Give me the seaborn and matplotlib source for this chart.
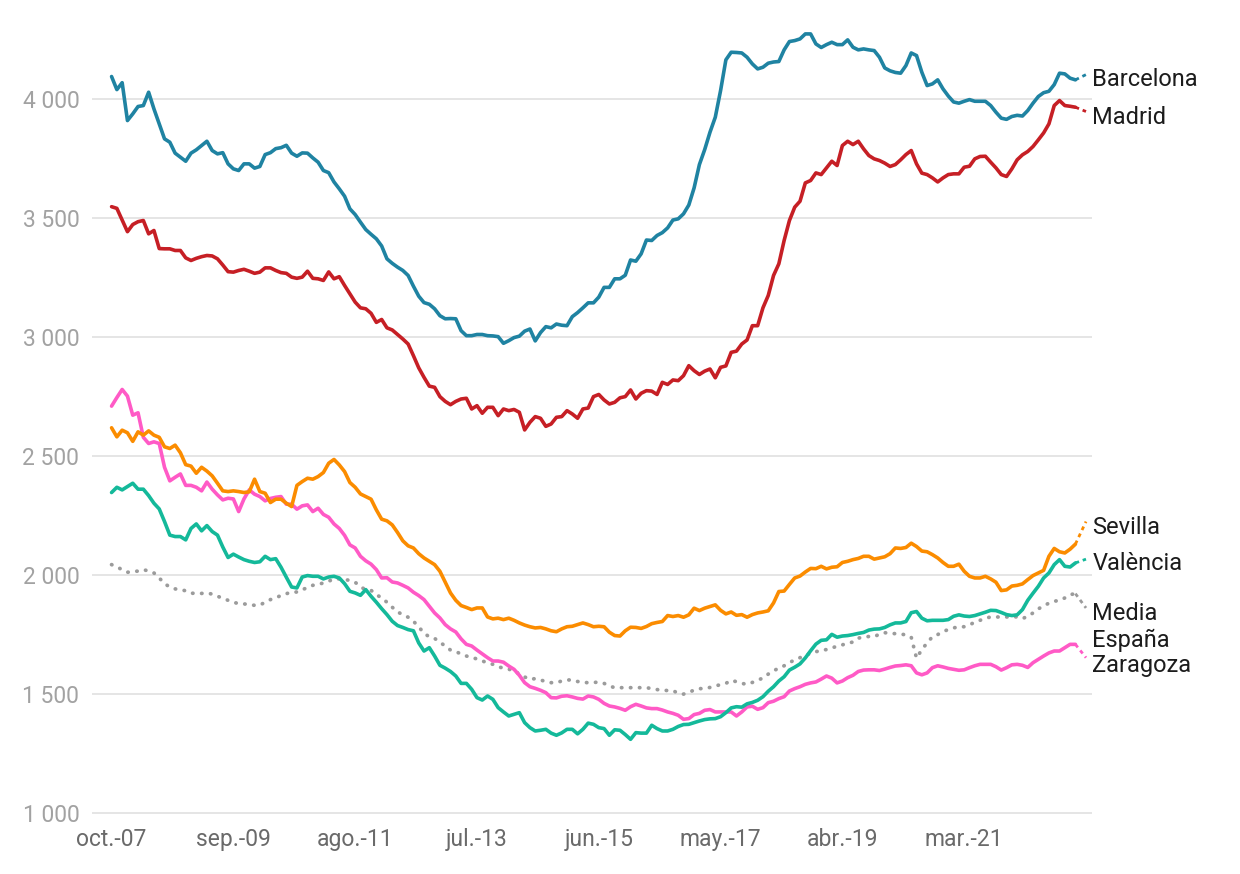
import numpy as np
import pandas as pd
import matplotlib
matplotlib.use('Agg')
from matplotlib import pyplot as plt
import seaborn as sns

# Meses con dato (oct-2007 a dic-2022) y ultimo dato provisional
meses = pd.period_range('2007-10', '2022-12', freq='M')
mes_final = pd.Period('2023-02', freq='M')

barcelona = [4096, 4041, 4070, 3911, 3939, 3970, 3974, 4030, 3960, 3897,
             3834, 3820, 3774, 3757, 3740, 3774, 3788, 3806, 3824, 3785,
             3771, 3776, 3729, 3708, 3701, 3729, 3729, 3711, 3718, 3768,
             3776, 3793, 3797, 3807, 3774, 3761, 3775, 3774, 3754, 3736,
             3701, 3692, 3653, 3624, 3593, 3540, 3516, 3484, 3453, 3433,
             3414, 3384, 3330, 3311, 3295, 3281, 3260, 3215, 3173, 3146,
             3139, 3120, 3091, 3078, 3079, 3078, 3028, 3007, 3007, 3012,
             3012, 3007, 3006, 3003, 2975, 2986, 2999, 3005, 3026, 3035,
             2985, 3020, 3045, 3040, 3056, 3051, 3049, 3087, 3104, 3124,
             3145, 3145, 3169, 3210, 3210, 3246, 3246, 3261, 3325, 3320,
             3351, 3409, 3407, 3428, 3440, 3460, 3493, 3498, 3519, 3556,
             3628, 3726, 3789, 3862, 3925, 4037, 4166, 4198, 4197, 4195,
             4177, 4149, 4128, 4135, 4152, 4157, 4159, 4208, 4243, 4247,
             4254, 4275, 4275, 4233, 4218, 4230, 4240, 4230, 4230, 4250,
             4219, 4208, 4212, 4208, 4205, 4177, 4132, 4120, 4113, 4110,
             4142, 4195, 4184, 4114, 4058, 4065, 4082, 4044, 4014, 3989,
             3984, 3992, 3999, 3992, 3992, 3992, 3974, 3946, 3921, 3916,
             3928, 3933, 3930, 3953, 3984, 4012, 4028, 4034, 4062, 4110,
             4107, 4089, 4082]

madrid = [3549, 3542, 3493, 3444, 3474, 3486, 3491, 3435, 3449, 3373,
          3372, 3372, 3365, 3365, 3334, 3323, 3332, 3339, 3344, 3342,
          3330, 3304, 3276, 3274, 3281, 3286, 3278, 3269, 3274, 3292,
          3292, 3281, 3272, 3269, 3253, 3248, 3253, 3278, 3248, 3246,
          3239, 3275, 3246, 3255, 3218, 3183, 3148, 3124, 3120, 3101,
          3063, 3075, 3040, 3031, 3012, 2993, 2972, 2923, 2872, 2832,
          2795, 2790, 2751, 2731, 2717, 2731, 2741, 2744, 2699, 2713,
          2681, 2706, 2706, 2671, 2699, 2692, 2697, 2685, 2611, 2643,
          2667, 2660, 2626, 2636, 2664, 2667, 2692, 2678, 2660, 2699,
          2703, 2751, 2760, 2737, 2720, 2727, 2746, 2751, 2779, 2741,
          2765, 2776, 2774, 2760, 2811, 2802, 2821, 2818, 2839, 2881,
          2860, 2844, 2858, 2867, 2830, 2874, 2880, 2937, 2942, 2972,
          2989, 3049, 3049, 3124, 3176, 3260, 3309, 3407, 3491, 3547,
          3572, 3649, 3659, 3691, 3684, 3712, 3740, 3722, 3806, 3824,
          3810, 3824, 3792, 3764, 3750, 3743, 3732, 3718, 3726, 3746,
          3768, 3785, 3729, 3690, 3684, 3670, 3653, 3670, 3684, 3687,
          3687, 3715, 3719, 3750, 3760, 3761, 3736, 3712, 3684, 3676,
          3708, 3746, 3767, 3781, 3802, 3830, 3859, 3897, 3974, 3995,
          3974, 3971, 3967]

sevilla = [2620, 2582, 2610, 2599, 2563, 2603, 2589, 2607, 2589, 2580,
           2540, 2533, 2547, 2515, 2465, 2459, 2429, 2454, 2438, 2418,
           2387, 2355, 2352, 2355, 2352, 2348, 2351, 2404, 2352, 2345,
           2306, 2320, 2320, 2303, 2289, 2378, 2394, 2408, 2404, 2415,
           2432, 2471, 2487, 2464, 2436, 2390, 2370, 2342, 2331, 2320,
           2275, 2236, 2229, 2212, 2180, 2145, 2124, 2115, 2091, 2073,
           2059, 2045, 2017, 1971, 1926, 1895, 1873, 1865, 1856, 1863,
           1863, 1825, 1817, 1820, 1814, 1820, 1811, 1800, 1791, 1784,
           1779, 1781, 1775, 1767, 1763, 1775, 1784, 1786, 1793, 1800,
           1793, 1784, 1786, 1784, 1761, 1747, 1745, 1767, 1782, 1781,
           1777, 1785, 1797, 1802, 1806, 1831, 1827, 1831, 1824, 1834,
           1862, 1852, 1862, 1869, 1876, 1853, 1838, 1846, 1832, 1835,
           1824, 1835, 1842, 1846, 1851, 1884, 1932, 1934, 1962, 1989,
           1997, 2014, 2029, 2028, 2038, 2027, 2034, 2036, 2054, 2059,
           2066, 2071, 2080, 2080, 2068, 2073, 2078, 2091, 2115, 2113,
           2117, 2135, 2121, 2102, 2099, 2087, 2073, 2054, 2038, 2038,
           2047, 2017, 1996, 1989, 1989, 1996, 1985, 1971, 1936, 1939,
           1955, 1958, 1964, 1982, 1999, 2010, 2021, 2080, 2113, 2099,
           2094, 2110, 2131]

valencia = [2348, 2370, 2359, 2373, 2387, 2362, 2362, 2335, 2303, 2279,
            2226, 2169, 2163, 2163, 2149, 2197, 2216, 2187, 2209, 2184,
            2169, 2119, 2075, 2089, 2077, 2066, 2059, 2054, 2057, 2080,
            2066, 2070, 2034, 1992, 1951, 1947, 1993, 1999, 1996, 1996,
            1985, 1993, 1996, 1989, 1965, 1933, 1926, 1916, 1940, 1912,
            1887, 1860, 1835, 1807, 1789, 1781, 1772, 1767, 1716, 1682,
            1696, 1661, 1622, 1610, 1596, 1577, 1546, 1546, 1521, 1486,
            1476, 1493, 1479, 1444, 1426, 1409, 1416, 1423, 1381, 1360,
            1346, 1349, 1353, 1337, 1328, 1338, 1353, 1353, 1334, 1353,
            1379, 1374, 1360, 1356, 1328, 1351, 1349, 1331, 1311, 1339,
            1337, 1337, 1370, 1356, 1346, 1346, 1353, 1365, 1373, 1374,
            1381, 1388, 1394, 1397, 1398, 1406, 1423, 1443, 1448, 1446,
            1460, 1466, 1475, 1490, 1513, 1532, 1556, 1574, 1602, 1614,
            1628, 1653, 1683, 1711, 1727, 1729, 1752, 1740, 1745, 1747,
            1751, 1756, 1760, 1770, 1774, 1775, 1781, 1792, 1800, 1800,
            1806, 1843, 1848, 1820, 1809, 1811, 1811, 1811, 1814, 1828,
            1834, 1829, 1827, 1831, 1838, 1845, 1853, 1852, 1844, 1835,
            1831, 1834, 1856, 1895, 1925, 1954, 1989, 2010, 2045, 2066,
            2038, 2035, 2052]

zaragoza = [2711, 2747, 2781, 2753, 2673, 2683, 2580, 2554, 2561, 2554,
            2454, 2397, 2412, 2426, 2378, 2378, 2370, 2355, 2392, 2362,
            2338, 2317, 2324, 2321, 2268, 2321, 2359, 2341, 2331, 2313,
            2323, 2328, 2331, 2299, 2299, 2278, 2292, 2296, 2268, 2282,
            2256, 2244, 2216, 2197, 2168, 2128, 2115, 2080, 2061, 2047,
            2024, 1989, 1990, 1972, 1968, 1958, 1947, 1929, 1915, 1898,
            1870, 1842, 1821, 1793, 1775, 1762, 1733, 1710, 1703, 1686,
            1670, 1654, 1640, 1640, 1635, 1619, 1605, 1580, 1549, 1532,
            1525, 1517, 1507, 1486, 1485, 1492, 1494, 1489, 1483, 1480,
            1493, 1489, 1479, 1462, 1451, 1447, 1441, 1433, 1448, 1458,
            1451, 1443, 1440, 1440, 1434, 1426, 1420, 1412, 1395, 1398,
            1415, 1420, 1433, 1436, 1426, 1426, 1426, 1426, 1409, 1426,
            1447, 1450, 1437, 1444, 1465, 1471, 1482, 1490, 1514, 1524,
            1532, 1542, 1548, 1552, 1564, 1577, 1568, 1548, 1556, 1570,
            1580, 1596, 1602, 1603, 1603, 1600, 1606, 1613, 1619, 1621,
            1624, 1620, 1590, 1582, 1590, 1612, 1620, 1615, 1609, 1605,
            1601, 1603, 1612, 1620, 1626, 1626, 1626, 1616, 1602, 1612,
            1624, 1626, 1622, 1613, 1633, 1647, 1661, 1674, 1682, 1682,
            1696, 1710, 1710]

media = [2045, 2035, 2024, 2013, 2015, 2018, 2024, 2018, 2010, 1989,
         1965, 1951, 1943, 1940, 1935, 1925, 1924, 1924, 1926, 1921,
         1912, 1904, 1895, 1887, 1881, 1880, 1877, 1874, 1875, 1887,
         1898, 1906, 1915, 1923, 1929, 1930, 1940, 1948, 1958, 1962,
         1968, 1975, 1986, 1985, 1982, 1979, 1971, 1951, 1940, 1937,
         1919, 1905, 1887, 1866, 1846, 1835, 1824, 1807, 1784, 1756,
         1742, 1735, 1719, 1703, 1686, 1679, 1670, 1661, 1654, 1649,
         1640, 1633, 1626, 1616, 1610, 1605, 1602, 1584, 1573, 1563,
         1566, 1560, 1554, 1549, 1549, 1556, 1560, 1561, 1554, 1550,
         1549, 1550, 1551, 1546, 1535, 1528, 1528, 1528, 1528, 1528,
         1528, 1528, 1524, 1520, 1517, 1516, 1516, 1504, 1501, 1508,
         1518, 1524, 1524, 1529, 1536, 1540, 1546, 1559, 1553, 1546,
         1542, 1550, 1560, 1568, 1585, 1599, 1610, 1620, 1634, 1644,
         1654, 1664, 1672, 1679, 1685, 1688, 1695, 1702, 1708, 1714,
         1720, 1736, 1741, 1743, 1742, 1753, 1759, 1756, 1755, 1753,
         1750, 1740, 1652, 1688, 1716, 1742, 1751, 1764, 1772, 1779,
         1784, 1784, 1792, 1803, 1811, 1820, 1825, 1825, 1825, 1825,
         1827, 1825, 1818, 1828, 1842, 1859, 1872, 1883, 1891, 1895,
         1905, 1919, 1923]

# Ultimo dato (provisional), unido con trazo discontinuo
ultimo = {'Barcelona': 4104, 'Madrid': 3949, 'Sevilla': 2226,
          'València': 2068, 'Zaragoza': 1654, 'Media España': 1863}

colores = {'Barcelona': '#1f83a2', 'Madrid': '#c61f25', 'Sevilla': '#fb8c00',
           'València': '#14b99a', 'Zaragoza': '#ff5ac6', 'Media España': '#9b9b9b'}

# posicion vertical de las etiquetas de la derecha (unidades del eje)
pos_etiqueta = {'Barcelona': 4084, 'Madrid': 3922, 'Sevilla': 2200,
                'València': 2049, 'Media\nEspaña': 1784, 'Zaragoza': 1622}

abrev = ['ene.', 'feb.', 'mar.', 'abr.', 'may.', 'jun.',
         'jul.', 'ago.', 'sep.', 'oct.', 'nov.', 'dic.']

sns.set_theme(style='white')
plt.rcParams['font.family'] = ['Roboto', 'DejaVu Sans']

x = [(m - meses[0]).n for m in meses]
x_final = (mes_final - meses[0]).n

ciudades = {'Zaragoza': zaragoza, 'València': valencia, 'Sevilla': sevilla,
            'Madrid': madrid, 'Barcelona': barcelona}
df = pd.concat([pd.DataFrame({'mes': x, 'valor': v, 'ciudad': k})
                for k, v in ciudades.items()], ignore_index=True)

fig = plt.figure(figsize=(12.4, 8.74), dpi=100)
ax = fig.add_axes([0.0740, 0.0667, 0.8065, 0.9013])

# Media de Espana, punteada
sns.lineplot(x=x, y=media, color=colores['Media España'], linewidth=2.7,
             linestyle=(0, (0.1, 2.3)), dash_capstyle='round',
             estimator=None, ax=ax)
sns.lineplot(x=[x[-1], x_final], y=[media[-1], ultimo['Media España']],
             color=colores['Media España'], linewidth=2.0,
             linestyle=(0, (1.4, 1.4)), estimator=None, ax=ax)

# Ciudades
sns.lineplot(data=df, x='mes', y='valor', hue='ciudad', palette=colores,
             linewidth=2.6, estimator=None, legend=False, ax=ax)
for k, v in ciudades.items():
    sns.lineplot(x=[x[-1], x_final], y=[v[-1], ultimo[k]], color=colores[k],
                 linewidth=2.0, linestyle=(0, (1.4, 1.4)), estimator=None, ax=ax)

for nombre, yy in pos_etiqueta.items():
    ax.text(x_final + 1.2, yy, nombre, ha='left', va='center', fontsize=17,
            color='#1c1c1c', linespacing=1.2, clip_on=False)

ax.set_xlim(-3.74, 185.1)
ax.set_ylim(990, 4300)

ticks_x = list(range(0, len(meses), 23))
ax.set_xticks(ticks_x)
ax.set_xticklabels([f"{abrev[meses[i].month - 1]}-{meses[i].year % 100:02d}" for i in ticks_x])
ticks_y = np.arange(1000, 4001, 500)
ax.set_yticks(ticks_y)
ax.set_yticklabels([f"{v:,}".replace(',', ' ') for v in ticks_y])

ax.tick_params(axis='x', length=0, pad=9, labelsize=16.5, labelcolor='#6a6a6a')
ax.tick_params(axis='y', length=0, pad=9, labelsize=16.5, labelcolor='#a2a2a2')
ax.yaxis.grid(True, color='#e3e3e3', linewidth=1.3)
ax.xaxis.grid(False)
ax.set_axisbelow(True)
ax.set_xlabel('')
ax.set_ylabel('')
sns.despine(left=True, bottom=True)

fig.savefig('out.png', dpi=100)
